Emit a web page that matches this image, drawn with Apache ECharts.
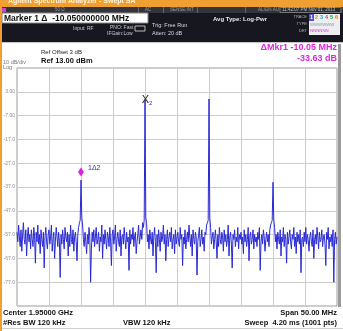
<!DOCTYPE html>
<html>
<head>
<meta charset="utf-8">
<script src="https://cdn.jsdelivr.net/npm/echarts@6/dist/echarts.min.js"></script>
<style>
  html, body { margin: 0; padding: 0; background: #fff; }
  #main { width: 343px; height: 331px; }
</style>
</head>
<body>
<div id="main"></div>
<script>
// sweep: 1925 .. 1975 MHz, 401 points (0.125 MHz apart), levels in dBm
const levels = [
  -56, -60, -53, -58, -62, -55, -64, -57, -52, -59, -61, -55, -66, -58, -54, -60, -57, -63, -55, -59,
  -62, -54, -58, -69, -56, -60, -53, -61, -57, -65, -55, -59, -62, -56, -71, -58, -54, -60, -63, -57,
  -55, -61, -58, -53, -64, -59, -56, -67, -60, -54, -58, -62, -56, -60, -75, -57, -61, -55, -59, -63,
  -54, -58, -60, -56, -66, -57, -62, -53, -59, -61, -55, -64, -58, -56, -60, -68, -57, -54, -52, -51,
  -34.1,
  -50, -53, -59, -62, -56, -60, -65, -57, -61, -54, -58, -77, -63, -56, -60, -55, -62, -58, -54, -61,
  -59, -56, -64, -58, -60, -53, -67, -57, -61, -55, -59, -63, -56, -58, -62, -54, -60, -70, -57, -55,
  -61, -58, -53, -64, -59, -56, -60, -62, -55, -66, -58, -57, -61, -54, -59, -63, -56, -60, -58, -72,
  -55, -61, -57, -59, -54, -62, -58, -56, -65, -60, -57, -53, -61, -58, -55, -59, -52, -54, -51,
  -0.4,
  -50, -52, -60, -57, -63, -55, -59, -61, -56, -66, -58, -54, -60, -73, -57, -62, -55, -59, -64, -56,
  -60, -58, -53, -61, -57, -68, -59, -55, -62, -58, -56, -60, -54, -63, -59, -57, -65, -55, -61, -58,
  -56, -60, -62, -54, -59, -57, -70, -58, -61, -55, -63, -59, -56, -60, -53, -58, -62, -57, -66, -55,
  -59, -61, -56, -58, -74, -60, -57, -54, -62, -59, -55, -61, -58, -64, -56, -57, -53, -52, -51,
  0.0,
  -50, -54, -61, -58, -56, -63, -59, -55, -60, -67, -57, -62, -54, -59, -61, -56, -58, -64, -55, -60,
  -57, -62, -59, -53, -66, -58, -56, -61, -71, -57, -59, -55, -62, -58, -60, -54, -63, -57, -59, -56,
  -61, -58, -65, -55, -60, -57, -62, -59, -54, -68, -58, -56, -61, -59, -55, -63, -57, -60, -58, -62,
  -56, -59, -54, -72, -60, -57, -61, -55, -58, -64, -59, -56, -60, -57, -62, -55, -53, -52, -51,
  -35.0,
  -51, -54, -60, -57, -63, -56, -59, -61, -55, -66, -58, -60, -54, -62, -57, -59, -69, -56, -61, -58,
  -55, -60, -63, -57, -59, -54, -62, -58, -65, -56, -60, -57, -61, -55, -73, -59, -58, -62, -56, -60,
  -54, -61, -57, -59, -64, -58, -56, -60, -62, -55, -67, -59, -57, -61, -54, -58, -63, -56, -60, -59,
  -55, -62, -58, -57, -61, -70, -56, -59, -54, -63, -58, -60, -57, -62, -55, -77, -59, -56, -61, -58
];
const freqStart = 1925;   // MHz
const freqStep = 0.125;   // MHz per sweep point
const freqTicks = [1925, 1975, 5];   // min, max, per div

const refTop = 13.0;      // dBm
const refBottom = -87.0;  // 10 divisions of 10 dB
const yTickLabels = ['-77.0', '-67.0', '-57.0', '-47.0', '-37.0', '-27.0', '-17.0', '-7.00', '3.00'];

// markers: 1 (delta) and 2 (reference)
const markerIdx = [80, 160];

const freqs = levels.map((_, i) => freqStart + i * freqStep);
const traceData = levels.map((v, i) => [freqs[i], v - refBottom]);

var chart = echarts.init(document.getElementById('main'), null, { renderer: 'canvas' });

const FONT = '"Liberation Sans", Arial, sans-serif';
function txt(x, y, text, size, color, extra) {
  return {
    type: 'text', x: x, y: y, silent: true,
    style: Object.assign({
      text: text, fontSize: size, fontFamily: FONT, fill: color,
      align: 'left', verticalAlign: 'middle'
    }, extra || {})
  };
}
function box(x, y, w, h, fill, stroke) {
  return { type: 'rect', silent: true, shape: { x: x, y: y, width: w, height: h },
    style: { fill: fill, stroke: stroke || null, lineWidth: 1 } };
}
function vline(x, y1, y2, color) {
  return { type: 'line', silent: true, shape: { x1: x, y1: y1, x2: x, y2: y2 }, style: { stroke: color, lineWidth: 1 } };
}

const traceColors = ['#ffffff', '#c8a018', '#20a8c0', '#c838c8', '#30a030', '#e07818'];
const graphics = [
  // window frame
  box(0, 0, 343, 7, '#f0a030'),
  box(0, 0, 2, 331, '#f0a030'),
  txt(8, 1, 'Agilent Spectrum Analyzer - Swept SA', 7, '#fff6e0', { fontWeight: 'bold' }),
  // header rows
  box(2, 7, 341, 6, '#34343c'),
  box(2, 13, 341, 29, '#17171f'),
  box(2, 8, 4, 4, '#d040d0'),
  txt(55, 10, '50 Ω', 4.5, '#9a9aa0'),
  txt(145, 10, 'AC', 4.5, '#9a9aa0'),
  txt(170, 10, 'SENSE:INT', 4.5, '#9a9aa0'),
  txt(258, 10, 'ALIGN AUTO', 4.5, '#9a9aa0'),
  box(280, 7.5, 61, 5, '#2a2a30', '#777'),
  txt(282, 10, '11:42:07 PM Nov 01, 2013', 4.5, '#c0c0c8'),
  vline(138.5, 7, 13, '#666'),
  vline(163.5, 7, 13, '#666'),
  vline(197.5, 7, 13, '#666'),
  vline(245.5, 7, 13, '#666'),
  box(2, 13, 146, 10, '#ffffff', '#888'),
  txt(4, 18.5, 'Marker 1 Δ  -10.050000000 MHz', 8.5, '#111', { fontWeight: 'bold' }),
  txt(73, 29, 'Input: RF', 5, '#c8c8d0'),
  txt(110, 28, 'PNO: Fast', 5, '#c8c8d0'),
  txt(107, 34, 'IFGain:Low', 5, '#c8c8d0'),
  box(135, 26, 10, 5, '#17171f', '#bbb'),
  txt(152, 25, 'Trig: Free Run', 5.5, '#d8d8e0'),
  txt(152, 33, 'Atten: 20 dB', 5.5, '#d8d8e0'),
  txt(213, 19, 'Avg Type: Log-Pwr', 6, '#e8e8ee', { fontWeight: 'bold' }),
  txt(307, 17, 'TRACE', 4, '#b0b0b8', { align: 'right' }),
  txt(307, 24, 'TYPE', 4, '#b0b0b8', { align: 'right' }),
  txt(307, 31, 'DET', 4, '#b0b0b8', { align: 'right' }),
  box(309, 14, 31, 21, '#eeeef2'),
  box(309, 14, 5, 7, '#5050d8')
].concat(traceColors.map((c, i) => txt(310 + i * 5, 17.5, String(i + 1), 5.5, c, { fontWeight: 'bold' })))
 .concat([
  txt(310, 24.5, 'WWWWWW', 4.3, '#909098'),
  txt(310, 31, 'NNNNNN', 4.3, '#d040c8'),
  // area above graticule
  { type: 'line', silent: true, shape: { x1: 2, y1: 42.5, x2: 343, y2: 42.5 }, style: { stroke: '#c8c8c8', lineWidth: 1 } },
  txt(41, 52, 'Ref Offset 3 dB', 6, '#222'),
  txt(41, 61, 'Ref 13.00 dBm', 7.5, '#111', { fontWeight: 'bold' }),
  txt(3, 62, '10 dB/div', 5.5, '#777'),
  txt(3, 67, 'Log', 5.5, '#777'),
  txt(337, 48, 'ΔMkr1 -10.05 MHz', 9, '#e028e0', { align: 'right', fontWeight: 'bold' }),
  txt(337, 59, '-33.63 dB', 9, '#e028e0', { align: 'right', fontWeight: 'bold' }),
  box(338, 44, 3, 263, '#9a9a9a'),
  // footer
  txt(3, 313, 'Center 1.95000 GHz', 7.5, '#111', { fontWeight: 'bold' }),
  txt(3, 323, '#Res BW 120 kHz', 7.5, '#111', { fontWeight: 'bold' }),
  txt(123, 323, 'VBW 120 kHz', 7.5, '#111', { fontWeight: 'bold' }),
  txt(337, 313, 'Span 50.00 MHz', 7.5, '#111', { fontWeight: 'bold', align: 'right' }),
  txt(337, 323, 'Sweep  4.20 ms (1001 pts)', 7.5, '#111', { fontWeight: 'bold', align: 'right' }),
  { type: 'line', silent: true, shape: { x1: 2, y1: 328.5, x2: 343, y2: 328.5 }, style: { stroke: '#cfcfcf', lineWidth: 1 } }
]);

chart.setOption({
  animation: false,
  backgroundColor: '#ffffff',
  grid: { left: 17, top: 68, width: 320, height: 238, show: true, borderColor: '#9a9a9a', borderWidth: 1, backgroundColor: 'transparent' },
  xAxis: {
    type: 'value', min: freqTicks[0], max: freqTicks[1], interval: freqTicks[2],
    axisLabel: { show: false }, axisTick: { show: false }, axisLine: { show: false },
    splitLine: { show: true, lineStyle: { color: '#cdcdcd', width: 1 } }
  },
  yAxis: {
    type: 'value', min: 0, max: refTop - refBottom, interval: 10,
    axisTick: { show: false }, axisLine: { show: false },
    splitLine: { show: true, lineStyle: { color: '#cdcdcd', width: 1 } },
    axisLabel: {
      show: true, margin: 2, fontSize: 5, color: '#8a8a8a', fontFamily: FONT,
      formatter: v => { const k = Math.round(v / 10) - 1; return (k >= 0 && k < yTickLabels.length) ? yTickLabels[k] : ''; }
    }
  },
  series: [{
    type: 'line',
    data: traceData,
    showSymbol: false,
    symbol: 'none',
    lineStyle: { color: '#2a2ad4', width: 1 },
    z: 3,
    markPoint: {
      silent: true,
      data: [
        {
          coord: traceData[markerIdx[0]], symbol: 'diamond', symbolSize: [6, 9], symbolOffset: [0, -8],
          itemStyle: { color: '#e020e0' },
          label: { show: true, position: 'right', formatter: '1Δ2', color: '#3030c0', fontSize: 7, fontFamily: FONT, offset: [-1, -4] }
        },
        {
          coord: traceData[markerIdx[1]], symbol: 'circle', symbolSize: 1,
          itemStyle: { color: 'rgba(0,0,0,0)' },
          label: {
            show: true, position: 'inside', offset: [2, 0], formatter: '{x|X}{s|2}',
            rich: {
              x: { fontSize: 11, color: '#222', fontFamily: FONT },
              s: { fontSize: 6, color: '#3030c0', fontFamily: FONT, padding: [6, 0, 0, 0] }
            }
          }
        }
      ]
    }
  }],
  graphic: { elements: graphics }
});

new ResizeObserver(() => chart.resize()).observe(document.getElementById('main'));
</script>
</body>
</html>
